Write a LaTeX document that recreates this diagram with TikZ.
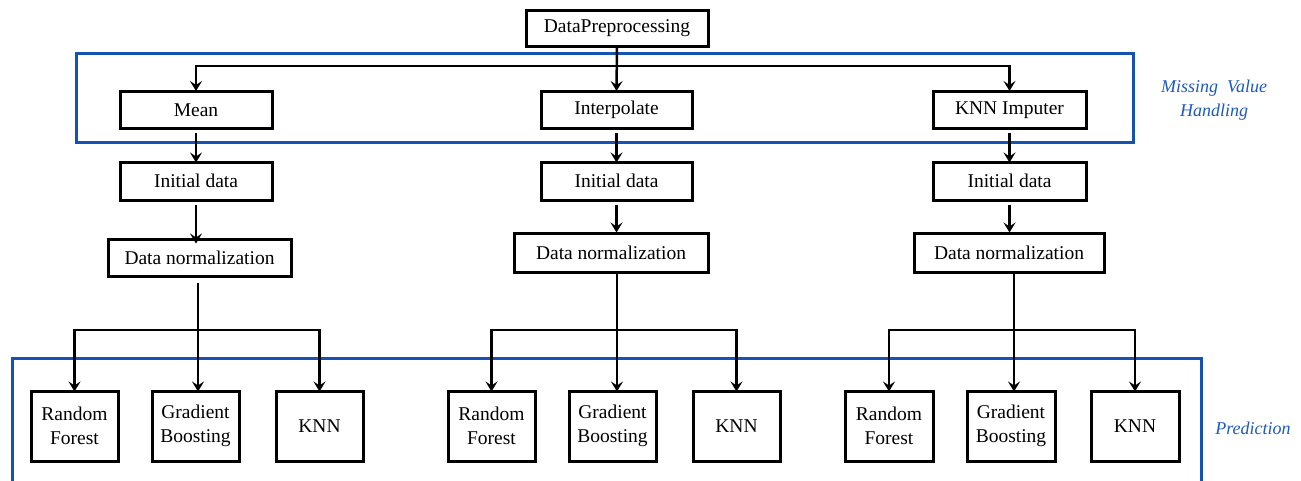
\documentclass[tikz,border=0pt]{standalone}
\usepackage{fontspec}
\setmainfont{Liberation Serif}
\usetikzlibrary{arrows.meta}
\definecolor{frameblue}{RGB}{22,82,180}
\definecolor{labelblue}{RGB}{30,90,190}
\tikzset{
  box/.style={draw=black, line width=3pt, inner sep=0pt, align=center,
    font=\fontsize{19.5}{24}\selectfont},
  conn/.style={draw=black, line width=2.5pt},
  arr/.style={conn, -{Stealth[length=10pt,width=12pt,inset=4pt]}},
  frame/.style={draw=frameblue, line width=3pt},
  lbl/.style={text=labelblue, font=\fontsize{18}{24}\selectfont\itshape, align=center}
}
\begin{document}
\begin{tikzpicture}[x=1pt,y=-1pt]
\useasboundingbox (0,0) rectangle (1301,480);
\fill[white] (0,0) rectangle (1301,480);
% frames
\draw[frame] (76,53) rectangle (1133,142);
\draw[frame] (12,483) -- (12,358) -- (1201,358) -- (1201,483);
\node[lbl] (mvh) at (1214,100) {Missing\ \ Value\\Handling};
\node[lbl] (pred) at (1253,428) {Prediction};
% top
\node[box, minimum width=182pt, minimum height=36pt] (dp) at (617,28) {DataPreprocessing};
\node[box, minimum width=152pt, minimum height=37pt] (mean) at (196,110) {Mean};
\node[box, minimum width=151pt, minimum height=37pt] (interp) at (616.5,110) {Interpolate};
\node[box, minimum width=153pt, minimum height=37pt] (knnimp) at (1009.5,110) {KNN Imputer};
% initial data
\node[box, minimum width=152pt, minimum height=38pt] (init1) at (196,181) {Initial data};
\node[box, minimum width=151pt, minimum height=38pt] (init2) at (616.5,181) {Initial data};
\node[box, minimum width=153pt, minimum height=38pt] (init3) at (1009.5,181) {Initial data};
% normalization
\node[box, minimum width=183pt, minimum height=37pt] (norm1) at (199.5,257.5) {Data normalization};
\node[box, minimum width=194pt, minimum height=39pt] (norm2) at (611,252.5) {Data normalization};
\node[box, minimum width=190pt, minimum height=39pt] (norm3) at (1009,252.5) {Data normalization};
% predictions
\node[box, minimum width=87pt, minimum height=70pt] (rf1) at (74.5,426) {Random\\Forest};
\node[box, minimum width=87pt, minimum height=70pt] (gb1) at (195.5,426) {Gradient\\Boosting};
\node[box, minimum width=87pt, minimum height=70pt] (knn1) at (319.5,426) {KNN};
\node[box, minimum width=87pt, minimum height=70pt] (rf2) at (491.5,426) {Random\\Forest};
\node[box, minimum width=87pt, minimum height=70pt] (gb2) at (612.5,426) {Gradient\\Boosting};
\node[box, minimum width=87pt, minimum height=70pt] (knn2) at (736.5,426) {KNN};
\node[box, minimum width=88pt, minimum height=70pt] (rf3) at (889,426) {Random\\Forest};
\node[box, minimum width=88pt, minimum height=70pt] (gb3) at (1011,426) {Gradient\\Boosting};
\node[box, minimum width=88pt, minimum height=70pt] (knn3) at (1135,426) {KNN};
% coordinates
\coordinate (hub) at (617,66);
\coordinate (b1) at (198,330);
\coordinate (b2) at (617,330);
\coordinate (b3) at (1014,330);
\coordinate (s1) at (198,283);
% connectors: top distribution
\draw[arr] (dp.south) -- ([yshift=-1pt]interp.north);
\draw[arr] (hub) -| ([yshift=-1pt]mean.north);
\draw[arr] (hub) -| ([yshift=-1pt]knnimp.north);
% down the columns
\draw[arr] ([yshift=-3pt]mean.south) -- ([yshift=-2pt]init1.north);
\draw[arr] ([yshift=-3pt]interp.south) -- ([yshift=-2pt]init2.north);
\draw[arr] ([yshift=-3pt]knnimp.south) -- ([yshift=-2pt]init3.north);
\draw[arr] ([yshift=-3pt]init1.south) -- ([yshift=-6pt]init1.south |- norm1.north);
\draw[arr] ([yshift=-3pt]init2.south) -- ([yshift=-1pt]init2.south |- norm2.north);
\draw[arr] ([yshift=-3pt]init3.south) -- ([yshift=-1pt]init3.south |- norm3.north);
% prediction branches
\draw[arr] (s1) -- ([yshift=-2pt]s1 |- gb1.north);
\draw[arr] (b1) -| ([yshift=-2pt]rf1.north);
\draw[arr] (b1) -| ([yshift=-2pt]knn1.north);
\draw[arr] (b2 |- norm2.south) -- ([yshift=-2pt]b2 |- gb2.north);
\draw[arr] (b2) -| ([yshift=-2pt]rf2.north);
\draw[arr] (b2) -| ([yshift=-2pt]knn2.north);
\draw[arr] (b3 |- norm3.south) -- ([yshift=-2pt]b3 |- gb3.north);
\draw[arr] (b3) -| ([yshift=-2pt]rf3.north);
\draw[arr] (b3) -| ([yshift=-2pt]knn3.north);
\end{tikzpicture}
\end{document}
